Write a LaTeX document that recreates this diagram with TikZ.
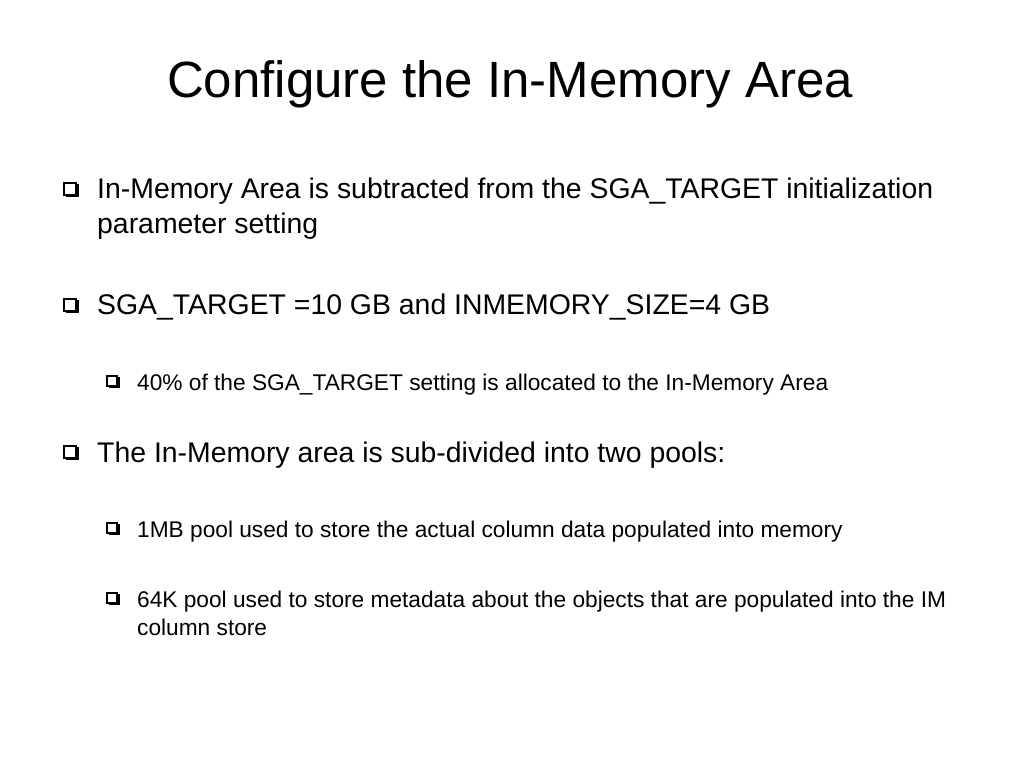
\documentclass[tikz,border=0pt]{standalone}
\usepackage{fontspec}
\setmainfont{Liberation Sans}
\begin{document}
\begin{tikzpicture}[x=1pt,y=-1pt,
  txtA/.style={anchor=base west,inner sep=0,font=\fontsize{28.4}{34}\selectfont},
  txtB/.style={anchor=base west,inner sep=0,font=\fontsize{22.7}{27}\selectfont},
  ttl/.style={anchor=base,inner sep=0,font=\fontsize{51}{60}\selectfont}]
\useasboundingbox (0,0) rectangle (1024,768);
\newcommand{\qbox}[3]{% x y size
  \draw[line width=1.2pt] (#1,#2) rectangle ++(#3,#3);
  \draw[line width=2.4pt] (#1+1.5,#2+#3+1.2) -- ++(#3,0) -- ++(0,-#3);}
\node[ttl] (title) at (510,97) {Configure the In-Memory Area};
\qbox{64}{183}{12}
\node[txtA] (a1) at (97,198) {In-Memory Area is subtracted from the SGA\_TARGET initialization};
\node[txtA] (a2) at (97,233) {parameter setting};
\qbox{64}{299}{12}
\node[txtA] (b1) at (97,314) {SGA\_TARGET =10 GB and INMEMORY\_SIZE=4 GB};
\qbox{107}{376}{10}
\node[txtB] (c1) at (137,390) {40\% of the SGA\_TARGET setting is allocated to the In-Memory Area};
\qbox{64}{446}{12}
\node[txtA] (d1) at (97,462) {The In-Memory area is sub-divided into two pools:};
\qbox{107}{523}{10}
\node[txtB] (e1) at (137,537) {1MB pool used to store the actual column data populated into memory};
\qbox{107}{593}{10}
\node[txtB] (f1) at (137,607) {64K pool used to store metadata about the objects that are populated into the IM};
\node[txtB] (f2) at (137,635) {column store};
\end{tikzpicture}
\end{document}
